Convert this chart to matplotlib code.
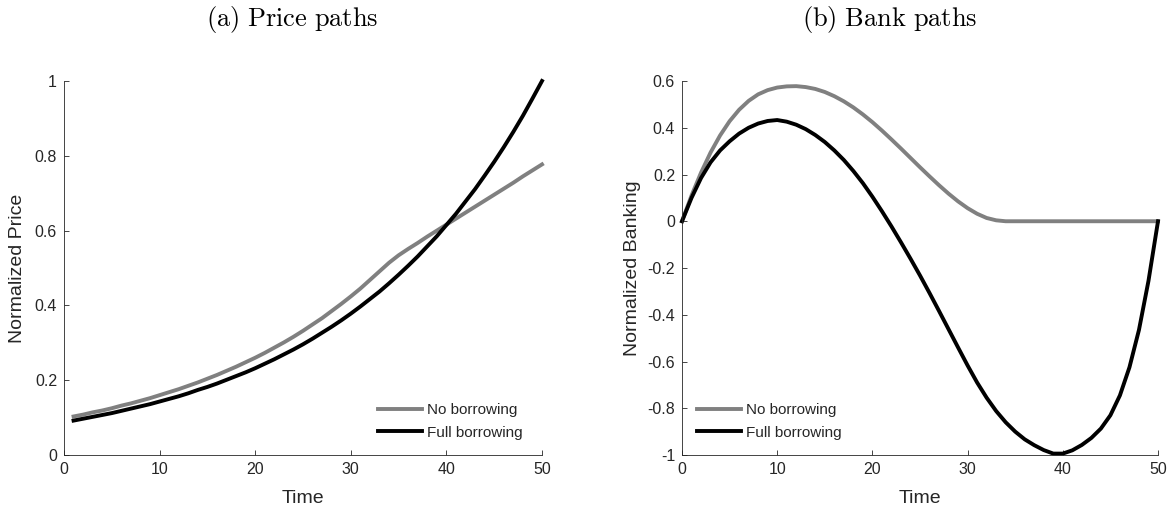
import matplotlib
matplotlib.use("Agg")
import matplotlib.pyplot as plt
from matplotlib.ticker import FuncFormatter

# ---- data -------------------------------------------------------------
price_time = list(range(1, 51))
price_no_borrowing = [
    0.103, 0.108, 0.114, 0.119, 0.125, 0.132, 0.138, 0.145, 0.152, 0.160,
    0.168, 0.176, 0.185, 0.194, 0.204, 0.214, 0.225, 0.236, 0.248, 0.260,
    0.273, 0.287, 0.301, 0.316, 0.332, 0.349, 0.366, 0.385, 0.404, 0.424,
    0.445, 0.468, 0.491, 0.514, 0.534, 0.551, 0.567, 0.584, 0.600, 0.616,
    0.632, 0.648, 0.664, 0.680, 0.696, 0.712, 0.728, 0.745, 0.761, 0.777,
]
price_full_borrowing = [
    0.092, 0.097, 0.102, 0.107, 0.112, 0.118, 0.124, 0.130, 0.136, 0.143,
    0.150, 0.157, 0.165, 0.174, 0.182, 0.191, 0.201, 0.211, 0.221, 0.232,
    0.244, 0.256, 0.269, 0.282, 0.296, 0.311, 0.327, 0.343, 0.360, 0.378,
    0.397, 0.417, 0.437, 0.459, 0.482, 0.506, 0.531, 0.558, 0.585, 0.615,
    0.645, 0.678, 0.711, 0.747, 0.784, 0.823, 0.864, 0.907, 0.953, 1.000,
]

bank_time = list(range(0, 51))
bank_no_borrowing = [
    0.000, 0.110, 0.208, 0.294, 0.367, 0.428, 0.477, 0.515, 0.543, 0.561,
    0.572, 0.577, 0.578, 0.574, 0.566, 0.553, 0.535, 0.513, 0.487, 0.457,
    0.424, 0.388, 0.350, 0.311, 0.271, 0.231, 0.192, 0.154, 0.118, 0.085,
    0.056, 0.032, 0.014, 0.004, 0.000, 0.000, 0.000, 0.000, 0.000, 0.000,
    0.000, 0.000, 0.000, 0.000, 0.000, 0.000, 0.000, 0.000, 0.000, 0.000,
    0.000,
]
bank_full_borrowing = [
    0.000, 0.100, 0.185, 0.252, 0.303, 0.342, 0.375, 0.400, 0.418, 0.429,
    0.433, 0.426, 0.413, 0.394, 0.369, 0.339, 0.303, 0.262, 0.215, 0.163,
    0.105, 0.043, -0.022, -0.090, -0.160, -0.232, -0.307, -0.384, -0.462, -0.540,
    -0.617, -0.690, -0.755, -0.812, -0.860, -0.900, -0.933, -0.958, -0.979, -0.994,
    -0.994, -0.980, -0.957, -0.927, -0.887, -0.830, -0.745, -0.625, -0.465, -0.255,
    0.000,
]

series_labels = ["No borrowing", "Full borrowing"]
series_colors = ["#808080", "#000000"]

price_xticks = [0, 10, 20, 30, 40, 50]
price_yticks = [0, 0.2, 0.4, 0.6, 0.8, 1]
bank_xticks = [0, 10, 20, 30, 40, 50]
bank_yticks = [-1, -0.8, -0.6, -0.4, -0.2, 0, 0.2, 0.4, 0.6]

# ---- style ------------------------------------------------------------
plt.rcParams["font.family"] = ["Liberation Sans", "DejaVu Sans"]
plt.rcParams["mathtext.fontset"] = "cm"
plt.rcParams["axes.unicode_minus"] = False

AX_COLOR = "#262626"
W, H = 1172, 511

fig = plt.figure(figsize=(W / 100, H / 100), dpi=100)

ax_price = fig.add_axes([64 / W, 56 / H, 478 / W, 374 / H])
ax_bank = fig.add_axes([682 / W, 56 / H, 476 / W, 374 / H])

fmt = FuncFormatter(lambda v, _: f"{v:g}")


def style_axes(ax):
    for side in ("top", "right"):
        ax.spines[side].set_visible(False)
    for side in ("left", "bottom"):
        ax.spines[side].set_color(AX_COLOR)
        ax.spines[side].set_linewidth(0.6)
    ax.tick_params(direction="in", length=3.5, width=0.6, color=AX_COLOR,
                   labelcolor=AX_COLOR, labelsize=11.5, pad=5)
    ax.xaxis.set_major_formatter(fmt)
    ax.yaxis.set_major_formatter(fmt)


def add_legend(ax, x, y):
    ax.legend(loc="upper left", bbox_to_anchor=(x, y), frameon=False,
              fontsize=11, handlelength=2.9, handletextpad=0.3,
              labelspacing=0.55, borderpad=0, borderaxespad=0,
              labelcolor=AX_COLOR)


# (a) price paths
ax_price.plot(price_time, price_no_borrowing, color=series_colors[0], lw=2.8,
              label=series_labels[0], clip_on=False)
ax_price.plot(price_time, price_full_borrowing, color=series_colors[1], lw=2.8,
              label=series_labels[1], clip_on=False)
ax_price.set_xlim(0, 50)
ax_price.set_ylim(0, 1)
ax_price.set_xticks(price_xticks)
ax_price.set_yticks(price_yticks)
style_axes(ax_price)
ax_price.set_xlabel("Time", fontsize=14, color=AX_COLOR, va="center")
ax_price.set_ylabel("Normalized Price", fontsize=14, color=AX_COLOR, va="center")
ax_price.xaxis.set_label_coords(0.5, -0.115)
ax_price.yaxis.set_label_coords(-0.098, 0.5)
add_legend(ax_price, 0.657, 0.138)

# (b) bank paths
ax_bank.plot(bank_time, bank_no_borrowing, color=series_colors[0], lw=2.8,
             label=series_labels[0], clip_on=False)
ax_bank.plot(bank_time, bank_full_borrowing, color=series_colors[1], lw=2.8,
             label=series_labels[1], clip_on=False)
ax_bank.set_xlim(0, 50)
ax_bank.set_ylim(-1, 0.6)
ax_bank.set_xticks(bank_xticks)
ax_bank.set_yticks(bank_yticks)
style_axes(ax_bank)
ax_bank.set_xlabel("Time", fontsize=14, color=AX_COLOR, va="center")
ax_bank.set_ylabel("Normalized Banking", fontsize=14, color=AX_COLOR, va="center")
ax_bank.xaxis.set_label_coords(0.5, -0.115)
ax_bank.yaxis.set_label_coords(-0.105, 0.5)
add_legend(ax_bank, 0.0315, 0.138)

# panel captions
fig.text(292 / W, 1 - 19 / H, r"$\mathrm{(a)\ Price\ paths}$", fontsize=19,
         ha="center", va="center", color="black")
fig.text(890 / W, 1 - 19 / H, r"$\mathrm{(b)\ Bank\ paths}$", fontsize=19,
         ha="center", va="center", color="black")

fig.savefig("out.png", dpi=100)
